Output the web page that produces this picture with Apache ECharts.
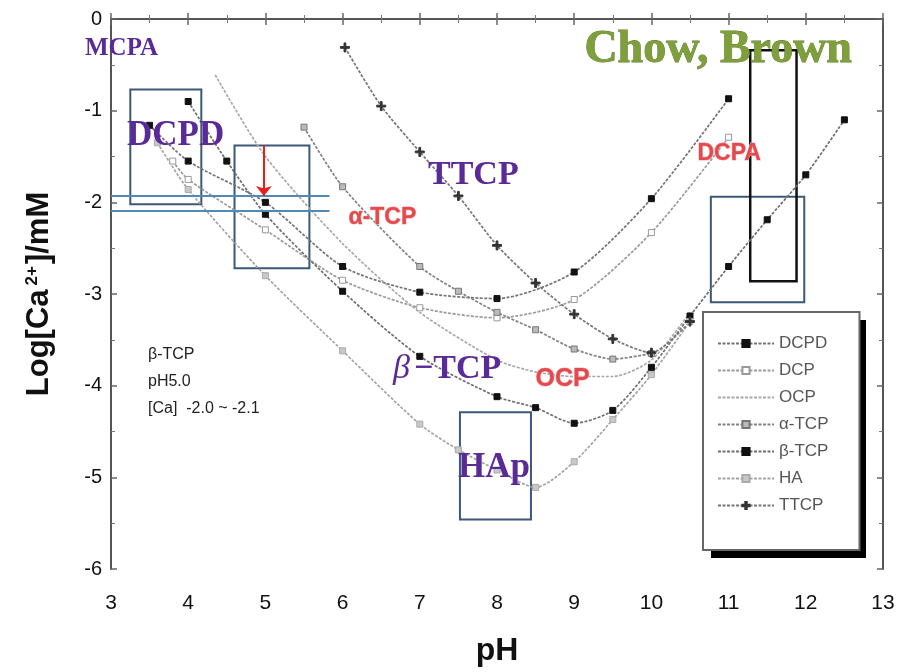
<!DOCTYPE html>
<html>
<head>
<meta charset="utf-8">
<script src="https://cdn.jsdelivr.net/npm/echarts@6/dist/echarts.min.js"></script>
<style>html,body{margin:0;padding:0;background:#fff}#c{width:900px;height:672px}</style>
</head>
<body>
<div id="c"></div>
<script>
// ---- data ----
const xTicks = [3,4,5,6,7,8,9,10,11,12,13];
const yTicks = [0,-1,-2,-3,-4,-5,-6];

const ph_DCPD  = [3.5, 4, 5, 6, 7, 8, 9, 10, 11];
const log_DCPD = [-1.16, -1.55, -2.0, -2.70, -2.98, -3.05, -2.76, -1.96, -0.87];

const ph_DCP  = [3.8, 4, 5, 6, 7, 8, 9, 10, 11];
const log_DCP = [-1.55, -1.75, -2.3, -2.85, -3.15, -3.26, -3.06, -2.33, -1.29];

const ph_OCP  = [4.35, 5, 6, 7, 8, 8.5, 9, 9.5, 10, 10.5];
const log_OCP = [-0.61, -1.5, -2.45, -3.2, -3.72, -3.85, -3.9, -3.9, -3.72, -3.2];

const ph_aTCP  = [5.5, 6, 7, 7.5, 8, 8.5, 9, 9.5, 10];
const log_aTCP = [-1.18, -1.83, -2.70, -2.97, -3.2, -3.39, -3.6, -3.71, -3.65];

const ph_bTCP  = [4, 4.5, 5, 6, 7, 8, 8.5, 9, 9.5, 10, 10.5, 11, 11.5, 12, 12.5];
const log_bTCP = [-0.9, -1.55, -2.13, -2.97, -3.68, -4.12, -4.24, -4.41, -4.27, -3.8, -3.24, -2.7, -2.19, -1.7, -1.1];

const ph_HA  = [3.6, 4, 5, 6, 7, 7.5, 8, 8.5, 9, 9.5, 10, 10.5];
const log_HA = [-1.35, -1.86, -2.8, -3.62, -4.42, -4.7, -4.92, -5.11, -4.83, -4.37, -3.88, -3.3];

const ph_TTCP  = [6.03, 6.5, 7, 7.5, 8, 8.5, 9, 9.5, 10, 10.5];
const log_TTCP = [-0.31, -0.95, -1.45, -1.93, -2.47, -2.88, -3.22, -3.49, -3.64, -3.3];

const seriesNames = ['DCPD','DCP','OCP','α-TCP','β-TCP','HA','TTCP'];

// annotation boxes (pH1, log1, pH2, log2)
const blueBoxes = [
  [3.25, -0.77, 4.17, -2.02],
  [4.6, -1.38, 5.57, -2.72],
  [7.52, -4.29, 8.44, -5.46],
  [10.77, -1.94, 11.98, -3.09]
];
const blackBox = [11.28, -0.34, 11.88, -2.86];
const blueLevels = [-1.93, -2.09];
const blueLevelRange = [3, 5.83];
const arrowFrom = [4.98, -1.38];
const arrowTo = [4.98, -1.93];

// ---- build ----
const zip = (a, b) => a.map((v, i) => [v, b[i]]);
const plus = 'path://M4,0h2v4h4v2h-4v4h-2v-4h-4v-2h4z';

function mk(name, xs, ys, color, symbol, symColor, symBorder, size) {
  return {
    name, type: 'line', data: zip(xs, ys), smooth: 0.25,
    lineStyle: { color: color, width: 1.7, type: [3, 1.5] },
    itemStyle: { color: symColor, borderColor: symBorder, borderWidth: 1 },
    symbol: symbol === 'none' ? 'circle' : symbol, symbolSize: size, showSymbol: symbol !== 'none',
    z: 3
  };
}

const series = [
  mk('DCPD', ph_DCPD, log_DCPD, '#737373', 'rect', '#111', '#111', 6),
  mk('DCP', ph_DCP, log_DCP, '#9a9a9a', 'rect', '#fff', '#999', 6),
  mk('OCP', ph_OCP, log_OCP, '#a8a8a8', 'none', 'rgba(0,0,0,0)', 'rgba(0,0,0,0)', 0),
  mk('α-TCP', ph_aTCP, log_aTCP, '#828282', 'rect', '#bbb', '#777', 6),
  mk('β-TCP', ph_bTCP, log_bTCP, '#6e6e6e', 'rect', '#111', '#111', 6),
  mk('HA', ph_HA, log_HA, '#a4a4a4', 'rect', '#c8c8c8', '#aaa', 6),
  mk('TTCP', ph_TTCP, log_TTCP, '#767676', plus, '#333', '#333', 9),
  {
    name: 'annot', type: 'line', data: [], z: 5, silent: true,
    markArea: {
      silent: true,
      itemStyle: { color: 'rgba(0,0,0,0)', borderColor: '#3b5878', borderWidth: 2 },
      data: blueBoxes.map(b => [{ coord: [b[0], b[1]] }, { coord: [b[2], b[3]] }]).concat([
        [{ coord: [blackBox[0], blackBox[1]], itemStyle: { color: 'rgba(0,0,0,0)', borderColor: '#111', borderWidth: 2.5 } },
         { coord: [blackBox[2], blackBox[3]] }]
      ])
    },
    markLine: {
      silent: true, symbol: 'none', label: { show: false },
      lineStyle: { color: '#4f89b8', width: 2, type: 'solid' },
      data: blueLevels.map(v => [{ coord: [blueLevelRange[0], v] }, { coord: [blueLevelRange[1], v] }]).concat([
        [{ coord: arrowFrom, symbol: 'none', lineStyle: { color: '#e8201c', width: 2 } },
         { coord: arrowTo, symbol: 'arrow', symbolSize: [12, 10], lineStyle: { color: '#e8201c', width: 2 } }]
      ])
    }
  }
];

const purple = '#5a2a98';
const red = '#e5484d';
const serif = '"Liberation Serif", "DejaVu Serif", serif';
const sans = '"Liberation Sans", Arial, sans-serif';

function txt(x, y, text, font, color, extra) {
  return Object.assign({ type: 'text', left: x, top: y, z: 10,
    style: Object.assign({ text: text, font: font, fill: color }, extra || {}) });
}
const redShadow = { stroke: '#f6b0b0', lineWidth: 1, shadowColor: 'rgba(120,0,0,0.35)', shadowBlur: 2, shadowOffsetX: 1, shadowOffsetY: 1 };

const legendData = seriesNames.map(n => n === 'OCP'
  ? { name: n, itemStyle: { color: 'rgba(0,0,0,0)', borderColor: 'rgba(0,0,0,0)' } }
  : { name: n });

const option = {
  animation: false,
  backgroundColor: '#fff',
  grid: { left: 111, right: 17, top: 19, bottom: 102 },
  xAxis: [{
    type: 'value', min: 3, max: 13, interval: 1, position: 'bottom',
    name: 'pH', nameLocation: 'middle', nameGap: 66,
    nameTextStyle: { fontSize: 32, fontWeight: 'bold', color: '#111', fontFamily: sans },
    axisLine: { lineStyle: { color: '#555', width: 2 } },
    axisTick: { inside: true, length: 6, lineStyle: { color: '#666', width: 1.5 } },
    minorTick: { show: true, splitNumber: 2, length: 4, lineStyle: { color: '#777' } },
    axisLabel: { fontSize: 21, color: '#111', margin: 24, fontFamily: sans,
      formatter: v => xTicks.includes(v) ? String(v) : '' },
    splitLine: { show: false }
  }, {
    type: 'value', min: 3, max: 13, interval: 1, position: 'top',
    axisLine: { show: true, lineStyle: { color: '#555', width: 2 } },
    axisTick: { inside: true, length: 6, lineStyle: { color: '#666', width: 1.5 } },
    minorTick: { show: true, splitNumber: 2, length: 4, lineStyle: { color: '#777' } },
    axisLabel: { show: false }, splitLine: { show: false }
  }],
  yAxis: [{
    type: 'value', min: -6, max: 0, interval: 1, position: 'left',
    name: '{a|Log[Ca}{s|2+}{a|]/mM}', nameLocation: 'middle', nameGap: 56, nameRotate: 90,
    nameTextStyle: { rich: {
      a: { fontSize: 31, fontWeight: 'bold', color: '#111', fontFamily: sans },
      s: { fontSize: 17, fontWeight: 'bold', color: '#111', fontFamily: sans, verticalAlign: 'top', padding: [0, 2, 14, 4] }
    } },
    axisLine: { lineStyle: { color: '#555', width: 2 } },
    axisTick: { inside: true, length: 6, lineStyle: { color: '#666', width: 1.5 } },
    minorTick: { show: true, splitNumber: 2, length: 4, lineStyle: { color: '#777' } },
    axisLabel: { fontSize: 20, color: '#111', margin: 9, fontFamily: sans,
      formatter: v => yTicks.includes(v) ? String(v) : '' },
    splitLine: { show: false }
  }, {
    type: 'value', min: -6, max: 0, interval: 1, position: 'right',
    axisLine: { show: true, lineStyle: { color: '#555', width: 2 } },
    axisTick: { inside: true, length: 6, lineStyle: { color: '#666', width: 1.5 } },
    minorTick: { show: true, splitNumber: 2, length: 4, lineStyle: { color: '#777' } },
    axisLabel: { show: false }, splitLine: { show: false }
  }],
  legend: {
    data: legendData, orient: 'vertical', left: 703, top: 312,
    itemWidth: 56, itemHeight: 9, itemGap: 10,
    padding: [23, 31, 36, 14],
    backgroundColor: '#fff', borderColor: '#666', borderWidth: 2,
    textStyle: { color: '#555', fontSize: 17, fontFamily: sans },
    selectedMode: false, z: 8
  },
  series: series,
  graphic: [
    { type: 'rect', left: 711, top: 320, z: 1, shape: { width: 155, height: 238 }, style: { fill: '#000' } },
    txt(85, 36, 'MCPA', 'bold 25px ' + serif, purple),
    txt(127, 118, 'DCPD', 'bold 35px ' + serif, purple),
    txt(428, 158, 'TTCP', 'bold 34px ' + serif, purple),
    txt(458, 450, 'HAp', 'bold 35px ' + serif, purple),
    txt(393, 352, 'β', 'italic 34px ' + serif, purple),
    txt(414, 352, '−TCP', 'bold 34px ' + serif, purple),
    txt(348, 206, 'α-TCP', 'bold 23px ' + sans, red, redShadow),
    txt(697, 142, 'DCPA', 'bold 23px ' + sans, red, redShadow),
    txt(535, 366, 'OCP', 'bold 25px ' + sans, red, redShadow),
    txt(584, 27, 'Chow, Brown', 'bold 46px ' + serif, '#7f9e3c',
      { stroke: '#5e7a28', lineWidth: 0.8, shadowColor: 'rgba(60,80,20,0.45)', shadowBlur: 2, shadowOffsetX: 2, shadowOffsetY: 2 }),
    txt(148, 347, 'β-TCP', '16px ' + sans, '#222'),
    txt(148, 374, 'pH5.0', '16px ' + sans, '#222'),
    txt(148, 401, '[Ca]  -2.0 ~ -2.1', '16px ' + sans, '#222')
  ]
};

const chart = echarts.init(document.getElementById('c'), null, { renderer: 'canvas' });
chart.setOption(option);
</script>
</body>
</html>
